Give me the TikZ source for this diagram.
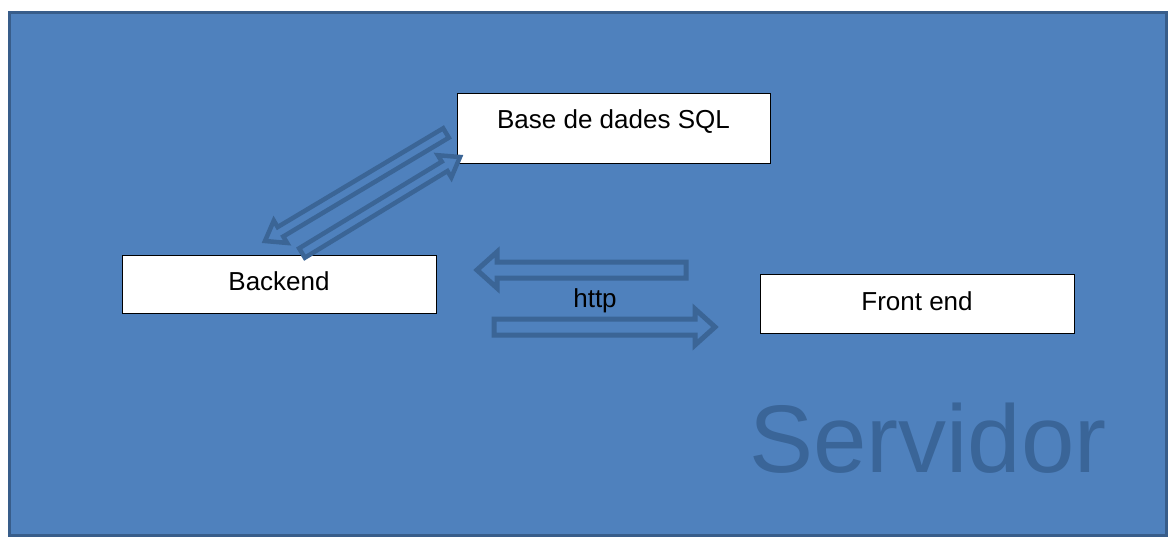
\documentclass[tikz,border=0pt]{standalone}
\usepackage{fontspec}
\setmainfont{Liberation Sans}
\usetikzlibrary{calc}
\definecolor{bgfill}{HTML}{4F81BD}
\definecolor{bgline}{HTML}{385D8A}
\definecolor{arrline}{HTML}{3B6596}
\definecolor{srvtext}{HTML}{3A6598}
\tikzset{
  box/.style={draw=black, line width=1pt, fill=white, inner sep=0pt,
    minimum width=314pt, minimum height=58pt, font=\fontsize{26}{30}\selectfont,
    text height=19pt, text depth=6pt},
  blockarrow/.style={draw=arrline, line width=5pt, line join=miter},
  label text/.style={inner sep=0pt, font=\fontsize{26}{30}\selectfont},
}
% #1 tail, #2 tip, #3 half shaft, #4 half head, #5 head length
\newcommand{\blockarr}[5]{%
  \draw[blockarrow]
    ($(#1)!#3!90:(#2)$) --
    ($(#2)!#5!(#1)!#3!90:(#2)$) --
    ($(#2)!#5!(#1)!#4!90:(#2)$) --
    (#2) --
    ($(#2)!#5!(#1)!#4!-90:(#2)$) --
    ($(#2)!#5!(#1)!#3!-90:(#2)$) --
    ($(#1)!#3!-90:(#2)$) -- cycle;
}
\begin{document}
\begin{tikzpicture}[x=1pt,y=-1pt]
  \useasboundingbox (0,0) rectangle (1169,538);
  \fill[white] (0,0) rectangle (1169,538);
  \draw[bgline, fill=bgfill, line width=3pt] (9.5,12.5) rectangle (1166.5,535.5);

  \node[anchor=base west, inner sep=0pt, text=srvtext,
        font=\fontsize{96}{110}\selectfont] (srv) at (749,472) {Servidor};

  \node[box, minimum width=313pt, minimum height=70pt, text height=19pt, text depth=18pt]
       (sql) at (613.5,128) {Base de dades SQL};
  \node[box] (back) at (279,284) {Backend};
  \node[box, minimum height=59pt] (front) at (917,303.5) {Front end};

  \node[label text, anchor=base] (http) at (595,307) {http};

  \coordinate (a1s) at (446,133);
  \coordinate (a1e) at (265,241);
  \coordinate (a2s) at (302,253);
  \coordinate (a2e) at (460,157);
  \coordinate (a3s) at (686,270);
  \coordinate (a3e) at (477,270);
  \coordinate (a4s) at (494,327);
  \coordinate (a4e) at (715,327);
  \begin{scope}[blockarrow/.append style={line width=4.5pt}]
    \blockarr{a1s}{a1e}{5.5pt}{13pt}{18pt}
    \blockarr{a2s}{a2e}{5.5pt}{13pt}{18pt}
  \end{scope}
  \blockarr{a3s}{a3e}{8pt}{18pt}{20pt}
  \blockarr{a4s}{a4e}{8pt}{18pt}{20pt}
\end{tikzpicture}
\end{document}
